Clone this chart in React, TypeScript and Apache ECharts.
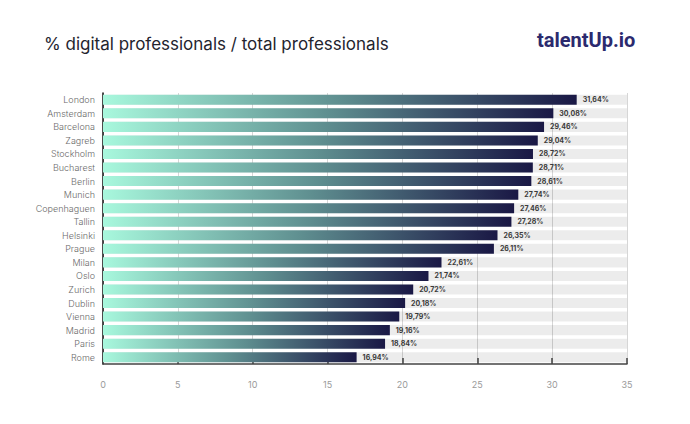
import React, { useEffect, useRef } from "react";
import * as echarts from "echarts";

const cities = [
  "London", "Amsterdam", "Barcelona", "Zagreb", "Stockholm", "Bucharest", "Berlin",
  "Munich", "Copenhaguen", "Tallin", "Helsinki", "Prague", "Milan", "Oslo", "Zurich",
  "Dublin", "Vienna", "Madrid", "Paris", "Rome",
];
const shares = [
  31.64, 30.08, 29.46, 29.04, 28.72, 28.71, 28.61, 27.74, 27.46, 27.28, 26.35, 26.11,
  22.61, 21.74, 20.72, 20.18, 19.79, 19.16, 18.84, 16.94,
];
const xTicks = [0, 5, 10, 15, 20, 25, 30, 35];

export default function App() {
  const ref = useRef<HTMLDivElement>(null);
  useEffect(() => {
    if (!ref.current) return;
    const chart = echarts.init(ref.current, null, { renderer: "svg" });
    const font = "Inter, 'Noto Sans', sans-serif";
    chart.setOption({
      animation: false,
      backgroundColor: "#ffffff",
      textStyle: { fontFamily: font },
      title: [
        {
          text: "% digital professionals / total professionals",
          left: 39,
          top: 30,
          textStyle: { fontSize: 17, fontWeight: "normal", color: "#24242e", fontFamily: font },
        },
      ],
      graphic: [
        {
          type: "text",
          left: 537,
          top: 30,
          style: {
            text: "talentUp.io",
            font: "bold 20px Roboto, 'Noto Sans', sans-serif",
            fill: "#2b2a6e",
          },
        },
      ],
      grid: { left: 103, right: 63, top: 93, bottom: 60, containLabel: false },
      xAxis: {
        type: "value",
        min: 0,
        max: 35,
        interval: 5,
        axisLine: { show: true, lineStyle: { color: "#444", width: 1.5 } },
        axisTick: { show: true, inside: true, length: 6, lineStyle: { color: "#444", width: 1.5 } },
        axisLabel: {
          color: "#9a9a9a",
          fontSize: 9,
          margin: 16,
          formatter: (v: number) => (xTicks.includes(v) ? String(v) : ""),
        },
        splitLine: { show: true, lineStyle: { color: "#d6d6d6", width: 1 } },
      },
      yAxis: {
        type: "category",
        data: cities,
        inverse: true,
        axisLine: { show: true, lineStyle: { color: "#111", width: 1.5 } },
        axisTick: { show: false },
        axisLabel: { color: "#6a6a6a", fontSize: 9, margin: 8, fontWeight: 300 },
      },
      series: [
        {
          type: "bar",
          data: shares,
          barCategoryGap: "26%",
          showBackground: true,
          backgroundStyle: { color: "rgba(0,0,0,0.075)" },
          itemStyle: {
            color: new echarts.graphic.LinearGradient(0, 0, 1, 0, [
              { offset: 0, color: "#a8f8dd" },
              { offset: 0.5, color: "#5f8f90" },
              { offset: 1, color: "#1a1845" },
            ]),
          },
          label: {
            show: true,
            position: "right",
            distance: 6,
            fontSize: 7,
            fontWeight: "bold",
            color: "#3a3a3a",
            formatter: (p: any) => p.value.toFixed(2).replace(".", ",") + "%",
          },
        },
      ],
    });
    return () => chart.dispose();
  }, []);
  return <div ref={ref} style={{ width: 690, height: 424, margin: -8 }} />;
}
